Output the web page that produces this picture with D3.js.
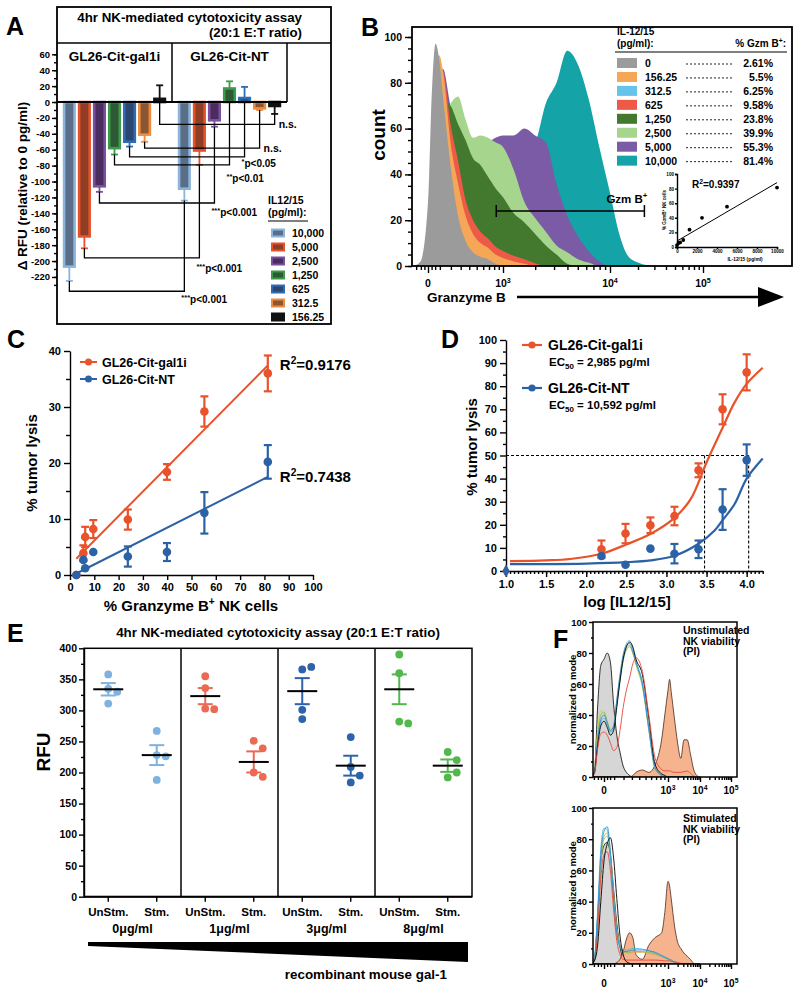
<!DOCTYPE html>
<html lang="en">
<head>
<meta charset="UTF-8">
<title>NK cytotoxicity and granzyme B</title>
<script src="https://d3js.org/d3.v7.min.js"></script>
<style>
  body { margin: 0; background: #fff; }
  svg { font-family: "Liberation Sans", Arial, Helvetica, sans-serif; font-weight: bold; }
  .axis path, .axis line { stroke: #000; stroke-width: 1.4; fill: none; }
  .axis text { font-weight: bold; fill: #000; }
</style>
</head>
<body>
<svg id="figure" width="800" height="993"></svg>
<script>
// ---------- panel A : change in RFU vs 0 pg/ml ----------
var ilDoses = ["10,000", "5,000", "2,500", "1,250", "625", "312.5", "156.25"];
var aCells = ["GL26-Cit-gal1i", "GL26-Cit-NT"];
var aGal1i = [-207, -169, -106, -58, -50, -41, 4];
var aGal1iSem = [18, 15, 7, 8, 6, 9, 17];
var aNT = [-109, -61, -23, 17, 5, -8, -5];
var aNTSem = [15, 18, 8, 9, 14, 2, 10];
var aBracket = [-238, -196, -127, -79, -69, -58, -28];   // level of each comparison line
var aStars = ["***", "***", "***", "**", "*", "", ""];
var aPval = ["p<0.001", "p<0.001", "p<0.001", "p<0.01", "p<0.05", "n.s.", "n.s."];

// ---------- panel B : granzyme B histograms ----------
// channel: 0 -> 0, 1 -> 10^3, 2 -> 10^4, 3 -> 10^5 (biexponential display)
var bDoses = ["0", "156.25", "312.5", "625", "1,250", "2,500", "5,000", "10,000"];
var bDoseVal = [0, 156.25, 312.5, 625, 1250, 2500, 5000, 10000];
var bGzmPct = [2.61, 5.5, 6.25, 9.58, 23.8, 39.9, 55.3, 81.4];
var bChannel = [-0.2, -0.1, 0, 0.05, 0.1, 0.15, 0.2, 0.3, 0.4, 0.5, 0.6, 0.7, 0.8, 0.9, 1.0, 1.1, 1.2, 1.3, 1.4, 1.5, 1.6, 1.7, 1.8, 1.9, 2.0, 2.1, 2.2, 2.3, 2.4, 2.5];
var bCount0 = [0, 2, 28, 75, 97, 90, 74, 44, 22, 11, 6, 4, 3, 1, 0, 0, 0, 0, 0, 0, 0, 0, 0, 0, 0, 0, 0, 0, 0, 0];
var bCount156 = [0, 1, 15, 55, 88, 92, 85, 54, 36, 22, 14, 10, 8, 5, 3.5, 2, 1, 0, 0, 0, 0, 0, 0, 0, 0, 0, 0, 0, 0, 0];
var bCount312 = [0, 1, 14, 52, 86, 90, 83, 52, 35, 21, 13, 9, 7, 4.5, 3, 1.8, 0.8, 0, 0, 0, 0, 0, 0, 0, 0, 0, 0, 0, 0, 0];
var bCount625 = [0, 1, 12, 45, 80, 86, 85, 62, 46, 29, 20, 15, 12, 8.5, 6.5, 4.5, 3, 1.2, 0, 0, 0, 0, 0, 0, 0, 0, 0, 0, 0, 0];
var bCount1250 = [0, 0.5, 10, 40, 66, 72, 72, 70, 62, 55, 47, 44, 39, 34, 30, 23, 19, 14, 9, 5, 1, 0, 0, 0, 0, 0, 0, 0, 0, 0];
var bCount2500 = [0, 0.5, 8, 30, 55, 62, 66, 71, 74, 64, 56, 57, 56, 54, 52, 42, 28, 21, 15, 9, 6, 3, 1.5, 0, 0, 0, 0, 0, 0, 0];
var bCount5000 = [0, 1, 10, 35, 60, 80, 86, 70, 62, 58, 54, 53, 54, 56, 57, 57, 60, 57, 54, 36, 22, 13, 6.5, 2, 0, 0, 0, 0, 0, 0];
var bCount10000 = [0, 0, 5, 15, 30, 40, 46, 50, 50, 50, 50, 50, 50, 50, 50, 50, 50, 54, 71, 80, 94, 88, 73, 52, 32, 14, 4, 1.5, 0.3, 0];
var bGate = [0.91, 2.37];
var bGateCount = 24;
var bR2 = "0.9397";

// ---------- panel C : lysis vs granzyme B ----------
var cGzmPct = [2.61, 5.5, 6.25, 9.58, 23.8, 39.9, 55.3, 81.4];
var cGal1i = [0, 3.9, 6.8, 8.2, 9.9, 18.4, 29.2, 36.0];
var cGal1iSem = [0, 1.4, 1.8, 1.6, 1.8, 1.4, 2.7, 3.2];
var cNT = [0, 2.7, 1.2, 4.1, 3.3, 4.1, 11.1, 20.2];
var cNTSem = [0, 0.3, 0.3, 0.3, 1.8, 1.6, 3.7, 3.0];
var cR2 = ["0.9176", "0.7438"];

// ---------- panel D : dose response ----------
var dLogDose = [1.0, 2.19, 2.49, 2.80, 3.10, 3.40, 3.70, 4.00];
var dGal1i = [0, 9.4, 16.2, 19.8, 23.8, 43.6, 70.0, 86.0];
var dGal1iSem = [0, 3.8, 4.2, 3.4, 4.0, 3.0, 6.5, 7.8];
var dNT = [0, 6.5, 2.7, 9.7, 7.5, 9.4, 26.6, 48.0];
var dNTSem = [0, 0.4, 0.4, 0.4, 4.2, 3.8, 8.8, 6.8];
var dGal1iFitX = [1.05, 1.5, 1.8, 2.2, 2.5, 2.8, 3.1, 3.3, 3.5, 3.7, 3.85, 4.0, 4.2];
var dGal1iFitY = [4.3, 4.6, 5.2, 7.6, 11.5, 16, 23, 31, 47, 62, 73, 81, 88];
var dNTFitX = [1.05, 1.5, 2.0, 2.5, 2.8, 3.1, 3.4, 3.6, 3.7, 3.85, 4.0, 4.2];
var dNTFitY = [3.0, 3.0, 3.2, 3.8, 4.6, 6.6, 11.8, 17.5, 22, 29, 40, 48.7];
var dEC50 = [2985, 10592];
var dEC50Text = ["2,985", "10,592"];

// ---------- panel E : RFU with recombinant gal-1 ----------
var eDoses = ["0\u03bcg/ml", "1\u03bcg/ml", "3\u03bcg/ml", "8\u03bcg/ml"];
var eConds = ["UnStm.", "Stm."];
var eUnstim = [[358, 335, 330, 311], [355, 336, 303, 302], [366, 370, 301, 286], [390, 360, 282, 279]];
var eStim = [[267, 228, 226, 188], [251, 239, 200, 193], [257, 209, 195, 184], [233, 220, 192, 200]];
var eUnstimMean = [334, 323, 331, 334];
var eUnstimSem = [10, 13, 21, 24];
var eStimMean = [228, 217, 211, 211];
var eStimSem = [16, 17, 16, 10];

// ---------- panel F : PI viability histograms ----------
var fChannel = [-0.2, -0.15, -0.1, -0.05, 0, 0.05, 0.1, 0.15, 0.2, 0.25, 0.3, 0.35, 0.4, 0.45, 0.5, 0.6, 0.7, 0.8, 0.9, 0.95, 1.0, 1.05, 1.1, 1.2, 1.3, 1.4, 1.5, 1.6, 1.7, 1.8, 1.9, 2.0];
var unstimGray = [0, 3, 45, 72, 76, 80, 74, 47, 27, 16, 7, 3, 1, 0, 0, 0, 0, 0, 0, 0, 0, 0, 0, 0, 0, 0, 0, 0, 0, 0, 0, 0];
var unstimBlack = [0, 3, 20, 33, 36, 32, 27, 30, 45, 62, 76, 84, 87, 84, 76, 66, 38, 8, 2, 1, 0, 0, 0, 0, 0, 0, 0, 0, 0, 0, 0, 0];
var unstimBlue = [0, 3, 24, 37, 40, 35, 30, 33, 50, 66, 79, 85, 86, 81, 74, 60, 32, 6, 1, 0, 0, 0, 0, 0, 0, 0, 0, 0, 0, 0, 0, 0];
var unstimCyan = [0, 2, 22, 35, 38, 34, 29, 31, 48, 63, 77, 86, 88, 83, 75, 61, 31, 5, 1, 0, 0, 0, 0, 0, 0, 0, 0, 0, 0, 0, 0, 0];
var unstimGreen = [0, 3, 26, 40, 42, 36, 30, 32, 47, 62, 75, 82, 84, 80, 73, 59, 30, 5, 1, 0, 0, 0, 0, 0, 0, 0, 0, 0, 0, 0, 0, 0];
var unstimYellow = [0, 4, 30, 43, 41, 36, 31, 33, 49, 65, 78, 83, 85, 80, 72, 58, 31, 6, 1, 0, 0, 0, 0, 0, 0, 0, 0, 0, 0, 0, 0, 0];
var unstimRed = [0, 2, 18, 28, 29, 27, 22, 17, 19, 30, 45, 56, 64, 73, 77, 68, 40, 12, 5, 4, 4, 4, 3.5, 3, 3, 3, 3.5, 3.8, 2.5, 0.5, 0, 0];
var unstimSalmon = [0, 0, 0, 0, 0, 0, 0, 0, 0, 0, 0, 0, 0, 1, 3, 4.5, 3, 8, 24, 40, 56, 63, 55, 38, 22, 12, 24, 24, 15, 5, 1, 0];
var stimGray = [0, 3, 30, 65, 76, 78, 70, 48, 26, 11, 3, 0.5, 0, 0, 0, 0, 0, 0, 0, 0, 0, 0, 0, 0, 0, 0, 0, 0, 0, 0, 0, 0];
var stimBlack = [0, 2, 12, 40, 66, 77, 81, 68, 42, 18, 6, 1.5, 0.5, 0, 0, 0, 0, 0, 0, 0, 0, 0, 0, 0, 0, 0, 0, 0, 0, 0, 0, 0];
var stimBlue = [0, 3, 30, 70, 85, 88, 72, 42, 20, 11, 8, 8, 8.5, 9, 9, 9, 8.5, 7.5, 5.5, 4.5, 3.5, 3, 2.6, 1.2, 0.3, 0, 0, 0, 0, 0, 0, 0];
var stimCyan = [0, 4, 34, 74, 87, 86, 68, 40, 19, 11, 9, 9, 9.5, 10, 10, 9.5, 8.5, 7, 5, 4, 3, 2.5, 2, 1, 0.3, 0, 0, 0, 0, 0, 0, 0];
var stimGreen = [0, 3, 28, 66, 80, 82, 70, 44, 22, 12, 8, 7.5, 7.5, 8, 8, 8, 7.5, 6.5, 5, 4, 3, 2.5, 2, 1, 0.3, 0, 0, 0, 0, 0, 0, 0];
var stimYellow = [0, 3, 27, 64, 82, 84, 72, 45, 23, 12, 8, 7, 7, 7.5, 7.5, 7.5, 7, 6, 4.5, 3.5, 2.8, 2.3, 1.8, 0.8, 0.2, 0, 0, 0, 0, 0, 0, 0];
var stimRed = [0, 2, 20, 55, 70, 72, 60, 35, 15, 6, 3, 2.5, 2.5, 2.5, 2.5, 2.5, 2.5, 2.5, 2.2, 2, 2, 2, 1.8, 1.5, 1, 0.5, 0, 0, 0, 0, 0, 0];
var stimSalmon = [0, 0, 0, 0, 0, 0, 0, 0, 1, 3, 8, 16, 20, 17, 6, 3, 12, 17, 20, 33, 53, 50, 42, 25, 14, 10, 7, 5, 3, 0.5, 0, 0];

// colours
var doseEdge = ["#8cb4dc", "#e5522b", "#7a4f9e", "#3d9a4a", "#2f6cb3", "#ee8b3d", "#111111"];
var doseFill = ["#5a6f87", "#8f3e25", "#4a2c5e", "#2d5934", "#2b4770", "#8a5634", "#111111"];
var bColors = ["#9b9b9b", "#f5a757", "#66c4e9", "#ee5a48", "#42792f", "#a6d58e", "#7b5aa6", "#14a4a7"];
var ORANGE = "#e8532b", BLUE = "#2b62a6";
var eColors = ["#7fb2df", "#eb6a54", "#2d63a9", "#52b84c"];

var svg = d3.select("#figure");

function label(g, x, y, s, size, anchor) {
    return g.append("text").attr("x", x).attr("y", y)
        .attr("font-size", size).attr("text-anchor", anchor || "start").text(s);
}

function vlabel(g, x, y, s, size) {
    return g.append("text").attr("transform", "translate(" + x + "," + y + ") rotate(-90)")
        .attr("text-anchor", "middle").attr("font-size", size).text(s);
}

function axisG(g, tx, ty, fn, fs) {
    var a = g.append("g").attr("class", "axis")
        .attr("transform", "translate(" + tx + "," + ty + ")").call(fn);
    a.attr("font-family", null).attr("font-size", fs || 10);
    return a;
}

function errBar(g, x, ya, yb, cap, color, sw) {
    g.append("line").attr("x1", x).attr("x2", x).attr("y1", ya).attr("y2", yb)
        .attr("stroke", color).attr("stroke-width", sw);
    g.append("line").attr("x1", x - cap).attr("x2", x + cap).attr("y1", yb).attr("y2", yb)
        .attr("stroke", color).attr("stroke-width", sw);
}

function supText(g, x, y, base, sup, size, anchor) {
    var t = g.append("text").attr("x", x).attr("y", y).attr("font-size", size)
        .attr("text-anchor", anchor || "start");
    t.append("tspan").text(base);
    t.append("tspan").attr("dy", -size * 0.4).attr("font-size", size * 0.68).text(sup);
    return t;
}

function linFit(xs, ys) {
    var mx = d3.mean(xs), my = d3.mean(ys);
    var sxy = d3.sum(xs, function (x, i) { return (x - mx) * (ys[i] - my); });
    var sxx = d3.sum(xs, function (x) { return (x - mx) * (x - mx); });
    var b = sxy / sxx;
    return { b: b, a: my - b * mx };
}

function zip(xs, ys) {
    return xs.map(function (x, i) { return [x, ys[i]]; });
}

// channel position of a fluorescence value, for the flow axes ticks
function flowChannel(v) {
    return v >= 1000 ? Math.log10(v) - 2 : Math.asinh(v / 356) / Math.asinh(1000 / 356);
}
var flowMinor = [-100, -60, -30, 30, 60, 100, 200, 300, 400, 500, 600, 700, 800, 900,
    2000, 3000, 4000, 5000, 6000, 7000, 8000, 9000,
    20000, 30000, 40000, 50000, 60000, 70000, 80000, 90000];
var flowMajor = [["0", ""], ["10", "3"], ["10", "4"], ["10", "5"]];

/* =================== A =================== */
var pA = svg.append("g");
label(pA, 6, 35, "A", 25);
var yA = d3.scaleLinear().domain([-230, 60]).range([284.9, 54.3]);
var cellA = d3.scaleBand().domain(aCells).range([57, 287]);
var doseA = d3.scaleBand().domain(ilDoses).range([0, cellA.bandwidth()]).paddingInner(0.3).paddingOuter(0.47);

pA.append("rect").attr("x", 57).attr("y", 7).attr("width", 274).attr("height", 317)
    .attr("fill", "none").attr("stroke", "#000").attr("stroke-width", 1.8);
pA.append("line").attr("x1", 57).attr("x2", 331).attr("y1", 43).attr("y2", 43)
    .attr("stroke", "#000").attr("stroke-width", 1.5);
aCells.forEach(function (c) {
    var xe = cellA(c) + cellA.bandwidth();
    pA.append("line").attr("x1", xe).attr("x2", xe).attr("y1", 43).attr("y2", yA(0))
        .attr("stroke", "#000").attr("stroke-width", 1.5);
    label(pA, cellA(c) + cellA.bandwidth() / 2, 61, c, 13.5, "middle");
});
label(pA, 302, 22, "4hr NK-mediated cytotoxicity assay", 13.3, "end");
label(pA, 302, 37, "(20:1 E:T ratio)", 13.3, "end");

var axA = axisG(pA, 57, 0, d3.axisLeft(yA).tickValues(d3.range(-220, 61, 20)).tickSize(5).tickPadding(2)
    .tickFormat(function (d) { return String(d); }), 9.5);
axA.select(".domain").remove();
var axA2 = axisG(pA, 57, 0, d3.axisLeft(yA).tickValues(d3.range(-230, 61, 10)).tickSize(3).tickFormat(""));
axA2.select(".domain").remove();
vlabel(pA, 27, 186, "\u0394 RFU (relative to 0 pg/ml)", 13.5);

var aSeries = [{ cell: aCells[0], mean: aGal1i, sem: aGal1iSem }, { cell: aCells[1], mean: aNT, sem: aNTSem }];
aSeries.forEach(function (s) {
    s.mean.forEach(function (v, i) {
        var x = cellA(s.cell) + doseA(ilDoses[i]), w = doseA.bandwidth(), cx = x + w / 2;
        var end = v + (v < 0 ? -s.sem[i] : s.sem[i]);
        errBar(pA, cx, yA(v), yA(end), 3.5, doseEdge[i], 1.8);
        pA.append("rect").attr("x", x).attr("y", Math.min(yA(v), yA(0)))
            .attr("width", w).attr("height", Math.abs(yA(v) - yA(0)))
            .attr("fill", doseFill[i]).attr("stroke", doseEdge[i]).attr("stroke-width", 2.6);
    });
});
pA.append("line").attr("x1", 57).attr("x2", 287).attr("y1", yA(0)).attr("y2", yA(0))
    .attr("stroke", "#000").attr("stroke-width", 2);

// label baseline below its bracket (px); the two closest brackets get their own offsets
var aLabelDrop = [12, 14, 13, 17, 10];
aBracket.forEach(function (lvl, i) {
    var half = doseA.bandwidth() / 2;
    var x1 = cellA(aCells[0]) + doseA(ilDoses[i]) + half;
    var x2 = cellA(aCells[1]) + doseA(ilDoses[i]) + half;
    var e1 = aGal1i[i] < 0 ? aGal1i[i] - aGal1iSem[i] : 0;
    var e2 = aNT[i] < 0 ? aNT[i] - aNTSem[i] : 0;
    var yb = yA(lvl);
    pA.append("path").attr("d", "M" + x1 + "," + yA(e1) + "V" + yb + "H" + x2 + "V" + yA(e2))
        .attr("fill", "none").attr("stroke", "#000").attr("stroke-width", 1.3);
    if (aStars[i]) {
        var t = pA.append("text").attr("x", x2 - 3).attr("y", yb + aLabelDrop[i]).attr("font-size", 10);
        t.append("tspan").attr("font-size", 7.5).attr("dy", -3).text(aStars[i]);
        t.append("tspan").attr("dy", 3).text(aPval[i]);
    } else {
        label(pA, x2 + 4, yb + 4, aPval[i], 10.5);
    }
});

label(pA, 268, 204, "IL12/15", 10.5);
label(pA, 268, 216, "(pg/ml):", 10.5);
pA.append("line").attr("x1", 268).attr("x2", 308).attr("y1", 221).attr("y2", 221)
    .attr("stroke", "#000").attr("stroke-width", 1.2);
ilDoses.forEach(function (d, i) {
    var y = 233 + i * 14;
    pA.append("rect").attr("x", 272).attr("y", y - 3.5).attr("width", 12).attr("height", 7)
        .attr("fill", doseFill[i]).attr("stroke", doseEdge[i]).attr("stroke-width", 2);
    label(pA, 292, y + 4, d, 10.5);
});

/* =================== B =================== */
var pB = svg.append("g");
label(pB, 361, 36, "B", 25);
var xB = d3.scaleLinear().domain([0, 1, 2, 3]).range([428, 503, 610, 703]);
var yB = d3.scaleLinear().domain([0, 100]).range([266, 37]);
pB.append("clipPath").attr("id", "clipB").append("rect")
    .attr("x", 412).attr("y", 27).attr("width", 380).attr("height", 239);
var areaB = d3.area().x(function (d) { return xB(d[0]); }).y0(yB(0))
    .y1(function (d) { return yB(d[1]); }).curve(d3.curveMonotoneX);
var bCounts = [bCount0, bCount156, bCount312, bCount625, bCount1250, bCount2500, bCount5000, bCount10000];
var histB = pB.append("g").attr("clip-path", "url(#clipB)");
for (var k = bCounts.length - 1; k >= 0; k--) {
    histB.append("path").attr("d", areaB(zip(bChannel, bCounts[k]))).attr("fill", bColors[k]);
}
pB.append("rect").attr("x", 412).attr("y", 27).attr("width", 380).attr("height", 239)
    .attr("fill", "none").attr("stroke", "#000").attr("stroke-width", 1.8);

var axB = axisG(pB, 412, 0, d3.axisLeft(yB).tickValues(d3.range(0, 101, 20)).tickSize(7).tickPadding(3), 10.5);
axB.select(".domain").remove();
axisG(pB, 412, 0, d3.axisLeft(yB).tickValues(d3.range(0, 101, 5)).tickSize(4).tickFormat("")).select(".domain").remove();
axisG(pB, 0, 266, d3.axisBottom(xB).tickValues([0, 1, 2, 3]).tickSize(7).tickFormat("")).select(".domain").remove();
axisG(pB, 0, 266, d3.axisBottom(xB).tickValues(flowMinor.map(flowChannel)).tickSize(4).tickFormat("")).select(".domain").remove();
flowMajor.forEach(function (m, i) {
    supText(pB, xB(i), 287, m[0], m[1], 10.5, "middle");
});
vlabel(pB, 385, 135, "count", 19);
label(pB, 427, 302, "Granzyme B", 13.5);
pB.append("line").attr("x1", 517).attr("x2", 762).attr("y1", 297).attr("y2", 297)
    .attr("stroke", "#000").attr("stroke-width", 2.6);
pB.append("path").attr("d", "M758,287L784,297L758,307Z").attr("fill", "#000");

// Gzm B+ gate
var gy = yB(bGateCount);
pB.append("line").attr("x1", xB(bGate[0])).attr("x2", xB(bGate[1])).attr("y1", gy).attr("y2", gy)
    .attr("stroke", "#000").attr("stroke-width", 1.5);
bGate.forEach(function (g) {
    pB.append("line").attr("x1", xB(g)).attr("x2", xB(g)).attr("y1", gy - 6).attr("y2", gy + 6)
        .attr("stroke", "#000").attr("stroke-width", 1.5);
});
supText(pB, xB(bGate[1]) + 3, gy - 8, "Gzm B", "+", 11.5, "end");

// legend
label(pB, 617, 35, "IL-12/15", 10);
label(pB, 617, 47, "(pg/ml):", 10);
var gzHead = supText(pB, 786, 47, "% Gzm B", "+", 10, "end");
gzHead.append("tspan").attr("dy", 4).attr("font-size", 10).text(":");
pB.append("line").attr("x1", 615).attr("x2", 787).attr("y1", 52).attr("y2", 52)
    .attr("stroke", "#000").attr("stroke-width", 1.2);
bDoses.forEach(function (d, i) {
    var y = 63 + i * 13.95;
    pB.append("rect").attr("x", 617).attr("y", y - 5).attr("width", 20).attr("height", 10).attr("fill", bColors[i]);
    label(pB, 645, y + 4, d, 10.5);
    pB.append("line").attr("x1", 686).attr("x2", 732).attr("y1", y + 1).attr("y2", y + 1)
        .attr("stroke", "#222").attr("stroke-width", 1).attr("stroke-dasharray", "2,2");
    label(pB, 773, y + 4, bGzmPct[i] + "%", 10.5, "end");
});

// inset regression
var xIn = d3.scaleLinear().domain([0, 10000]).range([677, 777]);
var yIn = d3.scaleLinear().domain([0, 100]).range([247, 174]);
axisG(pB, 0, 247, d3.axisBottom(xIn).tickValues(d3.range(0, 10001, 2000)).tickSize(2).tickPadding(1)
    .tickFormat(d3.format("d")), 4.6);
axisG(pB, 677, 0, d3.axisLeft(yIn).tickValues(d3.range(0, 101, 20)).tickSize(2).tickPadding(1), 4.6);
var fitB = linFit(bDoseVal, bGzmPct);
pB.append("line").attr("x1", xIn(0)).attr("x2", xIn(10000))
    .attr("y1", yIn(fitB.a)).attr("y2", yIn(fitB.a + fitB.b * 10000))
    .attr("stroke", "#000").attr("stroke-width", 1);
bDoseVal.forEach(function (v, i) {
    pB.append("circle").attr("cx", xIn(v)).attr("cy", yIn(bGzmPct[i])).attr("r", 1.9).attr("fill", "#000");
});
supText(pB, 692, 188, "R", "2", 10, "start").append("tspan").attr("dy", 4).attr("font-size", 10).text("=" + bR2);
label(pB, 745, 261, "IL-12/15 (pg/ml)", 4.8, "middle");
var inY = pB.append("text").attr("transform", "translate(666,210) rotate(-90)").attr("text-anchor", "middle").attr("font-size", 4.6);
inY.append("tspan").text("% GzmB");
inY.append("tspan").attr("dy", -2).attr("font-size", 3.4).text("+");
inY.append("tspan").attr("dy", 2).text(" NK cells");

/* =================== C =================== */
var pC = svg.append("g");
label(pC, 7, 348, "C", 25);
var xC = d3.scaleLinear().domain([0, 100]).range([70, 313]);
var yC = d3.scaleLinear().domain([0, 40]).range([575, 351]);
axisG(pC, 70, 0, d3.axisLeft(yC).tickValues(d3.range(0, 41, 10)).tickSize(6).tickPadding(3).tickSizeOuter(0), 11);
axisG(pC, 70, 0, d3.axisLeft(yC).tickValues(d3.range(5, 41, 10)).tickSize(4).tickFormat("")).select(".domain").remove();
axisG(pC, 0, 575, d3.axisBottom(xC).tickValues(d3.range(0, 101, 10)).tickSize(5).tickPadding(3).tickSizeOuter(0), 11);
vlabel(pC, 37, 463, "% tumor lysis", 15);
supText(pC, 191, 611, "% Granzyme B", "+", 15, "middle").append("tspan").attr("dy", 6).attr("font-size", 15).text(" NK cells");

var cSeries = [
    { y: cGal1i, sem: cGal1iSem, color: ORANGE, r2: cR2[0] },
    { y: cNT, sem: cNTSem, color: BLUE, r2: cR2[1] }
];
cSeries.forEach(function (s) {
    var f = linFit(cGzmPct, s.y);
    var x0 = d3.min(cGzmPct), x1 = d3.max(cGzmPct);
    pC.append("line").attr("x1", xC(x0)).attr("x2", xC(x1))
        .attr("y1", yC(f.a + f.b * x0)).attr("y2", yC(f.a + f.b * x1))
        .attr("stroke", s.color).attr("stroke-width", 2);
    s.y.forEach(function (v, i) {
        var x = xC(cGzmPct[i]);
        if (s.sem[i] > 0.5) {
            errBar(pC, x, yC(v), yC(v + s.sem[i]), 4, s.color, 2.2);
            errBar(pC, x, yC(v), yC(v - s.sem[i]), 4, s.color, 2.2);
        }
        pC.append("circle").attr("cx", x).attr("cy", yC(v)).attr("r", 4.3).attr("fill", s.color);
    });
    var t = supText(pC, xC(x1) + 12, yC(f.a + f.b * x1) + 5, "R", "2", 15, "start");
    t.append("tspan").attr("dy", 6).attr("font-size", 15).text("=" + s.r2);
});
[["GL26-Cit-gal1i", ORANGE, 362], ["GL26-Cit-NT", BLUE, 379]].forEach(function (l) {
    pC.append("line").attr("x1", 80).attr("x2", 97).attr("y1", l[2]).attr("y2", l[2])
        .attr("stroke", l[1]).attr("stroke-width", 2);
    pC.append("circle").attr("cx", 88.5).attr("cy", l[2]).attr("r", 3.5).attr("fill", l[1]);
    label(pC, 102, l[2] + 4.5, l[0], 12.5);
});

/* =================== D =================== */
var pD = svg.append("g");
label(pD, 441, 348, "D", 25);
var xD = d3.scaleLinear().domain([1, 4.2]).range([506, 762.7]);
var yD = d3.scaleLinear().domain([0, 100]).range([571, 340]);
axisG(pD, 506, 0, d3.axisLeft(yD).tickValues(d3.range(0, 101, 10)).tickSize(6).tickPadding(3).tickSizeOuter(0), 11);
axisG(pD, 506, 0, d3.axisLeft(yD).tickValues(d3.range(5, 100, 10)).tickSize(3).tickFormat("")).select(".domain").remove();
axisG(pD, 0, 571, d3.axisBottom(xD).tickValues(d3.range(1, 4.01, 0.5)).tickSize(6).tickPadding(3)
    .tickSizeOuter(0).tickFormat(d3.format(".1f")), 11);
axisG(pD, 0, 571, d3.axisBottom(xD).tickValues(d3.range(1, 4.21, 0.05)).tickSize(3).tickFormat("")).select(".domain").remove();
vlabel(pD, 477, 447, "% tumor lysis", 15);
label(pD, 627, 607, "log [IL12/15]", 15, "middle");

var ec50Log = dEC50.map(function (v) { return Math.log10(v); });
pD.append("path").attr("d", "M" + xD(1) + "," + yD(50) + "H" + xD(d3.max(ec50Log)))
    .attr("fill", "none").attr("stroke", "#000").attr("stroke-width", 1.1).attr("stroke-dasharray", "3,2");
ec50Log.forEach(function (lx) {
    pD.append("line").attr("x1", xD(lx)).attr("x2", xD(lx)).attr("y1", yD(50)).attr("y2", yD(0))
        .attr("stroke", "#000").attr("stroke-width", 1.1).attr("stroke-dasharray", "3,2");
});

var lineD = d3.line().x(function (d) { return xD(d[0]); }).y(function (d) { return yD(d[1]); })
    .curve(d3.curveCatmullRom.alpha(0.5));
var dSeries = [
    { y: dGal1i, sem: dGal1iSem, fx: dGal1iFitX, fy: dGal1iFitY, color: ORANGE },
    { y: dNT, sem: dNTSem, fx: dNTFitX, fy: dNTFitY, color: BLUE }
];
dSeries.forEach(function (s) {
    pD.append("path").attr("d", lineD(zip(s.fx, s.fy))).attr("fill", "none")
        .attr("stroke", s.color).attr("stroke-width", 2.2);
    s.y.forEach(function (v, i) {
        var x = xD(dLogDose[i]);
        if (s.sem[i] > 0.5) {
            errBar(pD, x, yD(v), yD(v + s.sem[i]), 4, s.color, 2.2);
            errBar(pD, x, yD(v), yD(v - s.sem[i]), 4, s.color, 2.2);
        }
        if (i === 0) {
            pD.append("path").attr("d", d3.symbol(d3.symbolDiamond, 45)())
                .attr("transform", "translate(" + x + "," + yD(v) + ")").attr("fill", s.color);
        } else {
            pD.append("circle").attr("cx", x).attr("cy", yD(v)).attr("r", 4.3).attr("fill", s.color);
        }
    });
});
[["GL26-Cit-gal1i", ORANGE, 345, dEC50Text[0]], ["GL26-Cit-NT", BLUE, 388, dEC50Text[1]]].forEach(function (l) {
    pD.append("line").attr("x1", 522).attr("x2", 542).attr("y1", l[2]).attr("y2", l[2])
        .attr("stroke", l[1]).attr("stroke-width", 2.2);
    pD.append("circle").attr("cx", 532).attr("cy", l[2]).attr("r", 3.6).attr("fill", l[1]);
    label(pD, 548, l[2] + 5, l[0], 14);
    var t = pD.append("text").attr("x", 549).attr("y", l[2] + 21).attr("font-size", 11.5);
    t.append("tspan").text("EC");
    t.append("tspan").attr("dy", 3).attr("font-size", 8).text("50");
    t.append("tspan").attr("dy", -3).text(" = " + l[3] + " pg/ml");
});

/* =================== E =================== */
var pE = svg.append("g");
var eLeft = 84, eRight = 472;
label(pE, 7, 642, "E", 25);
label(pE, (eLeft + eRight) / 2, 637, "4hr NK-mediated cytotoxicity assay (20:1 E:T ratio)", 13.4, "middle");
var yE = d3.scaleLinear().domain([0, 400]).range([896.7, 648.3]);
var eCats = [];
eDoses.forEach(function (d, g) { eConds.forEach(function (c, j) { eCats.push(g * 2 + j); }); });
var xE = d3.scaleBand().domain(eCats).range([eLeft, eRight]);
axisG(pE, eLeft, 0, d3.axisLeft(yE).tickValues(d3.range(0, 401, 50)).tickSize(5).tickPadding(2).tickSizeOuter(0), 10.5);
axisG(pE, eLeft, 0, d3.axisLeft(yE).tickValues(d3.range(25, 400, 50)).tickSize(3).tickFormat("")).select(".domain").remove();
pE.append("rect").attr("x", eLeft).attr("y", yE(400)).attr("width", eRight - eLeft).attr("height", yE(0) - yE(400))
    .attr("fill", "none").attr("stroke", "#000").attr("stroke-width", 1.5);
pE.append("line").attr("x1", eLeft).attr("x2", eRight).attr("y1", yE(0)).attr("y2", yE(0))
    .attr("stroke", "#000").attr("stroke-width", 2);
[2, 4, 6].forEach(function (c) {
    pE.append("line").attr("x1", xE(c)).attr("x2", xE(c)).attr("y1", yE(400)).attr("y2", yE(0))
        .attr("stroke", "#000").attr("stroke-width", 1.5);
});
vlabel(pE, 50, 752, "RFU", 19);

function swarm(vals, yS, step) {
    var placed = [];
    return vals.map(function (v) {
        var y = yS(v), offs = [0, step, -step, 2 * step, -2 * step];
        for (var q = 0; q < offs.length; q++) {
            var free = placed.every(function (p) { return Math.hypot(p[0] - offs[q], p[1] - y) >= step; });
            if (free) { placed.push([offs[q], y]); return offs[q]; }
        }
        return 0;
    });
}

eDoses.forEach(function (d, g) {
    var groups = [[eUnstim[g], eUnstimMean[g], eUnstimSem[g]], [eStim[g], eStimMean[g], eStimSem[g]]];
    groups.forEach(function (gr, j) {
        var cat = g * 2 + j, cx = xE(cat) + xE.bandwidth() / 2, col = eColors[g];
        pE.append("line").attr("x1", cx).attr("x2", cx).attr("y1", yE(0)).attr("y2", yE(0) + 5)
            .attr("stroke", "#000").attr("stroke-width", 1.4);
        label(pE, cx, 916, eConds[j], 11.5, "middle");
        var offs = swarm(gr[0], yE, 9);
        gr[0].forEach(function (v, i) {
            pE.append("circle").attr("cx", cx + offs[i]).attr("cy", yE(v)).attr("r", 3.9).attr("fill", col);
        });
        errBar(pE, cx, yE(gr[1]), yE(gr[1] + gr[2]), 7.5, col, 2);
        errBar(pE, cx, yE(gr[1]), yE(gr[1] - gr[2]), 7.5, col, 2);
        pE.append("line").attr("x1", cx - 15).attr("x2", cx + 15).attr("y1", yE(gr[1])).attr("y2", yE(gr[1]))
            .attr("stroke", "#000").attr("stroke-width", 2);
    });
    label(pE, xE(g * 2) + xE.bandwidth(), 933, d, 12.5, "middle");
});
pE.append("path").attr("d", "M88,942L468,942L468,962L88,946Z").attr("fill", "#000");
label(pE, 447, 979, "recombinant mouse gal-1", 13.4, "end");

/* =================== F =================== */
var pF = svg.append("g");
var fLeft = 593, fRight = 737;
label(pF, 553, 648, "F", 25);
var xF = d3.scaleLinear().domain([0, 1, 2, 3]).range([604, 668, 700, 731]);
var fPanels = [
    { top: 622, bottom: 777, title: ["Unstimulated", "NK viability", "(PI)"], tx: 683, ty: 634, lab: 794,
      gray: unstimGray, salmon: unstimSalmon,
      lines: [[unstimYellow, "#e0cf3e"], [unstimGreen, "#7cc36b"], [unstimCyan, "#3fc3e3"], [unstimBlue, "#3b86d0"], [unstimBlack, "#000"], [unstimRed, "#e8463a"]] },
    { top: 808, bottom: 964, title: ["Stimulated", "NK viability", "(PI)"], tx: 683, ty: 822, lab: 987,
      gray: stimGray, salmon: stimSalmon,
      lines: [[stimYellow, "#e6a93a"], [stimGreen, "#7cc36b"], [stimCyan, "#3fc3e3"], [stimBlue, "#3b86d0"], [stimRed, "#e8463a"], [stimBlack, "#000"]] }
];
fPanels.forEach(function (p, n) {
    var yF = d3.scaleLinear().domain([0, 100]).range([p.bottom, p.top]);
    var cid = "clipF" + n;
    pF.append("clipPath").attr("id", cid).append("rect")
        .attr("x", fLeft).attr("y", p.top).attr("width", fRight - fLeft).attr("height", p.bottom - p.top);
    var g = pF.append("g").attr("clip-path", "url(#" + cid + ")");
    var areaF = d3.area().x(function (d) { return xF(d[0]); }).y0(yF(0))
        .y1(function (d) { return yF(d[1]); }).curve(d3.curveMonotoneX);
    var lineF = d3.line().x(function (d) { return xF(d[0]); }).y(function (d) { return yF(d[1]); }).curve(d3.curveMonotoneX);
    g.append("path").attr("d", areaF(zip(fChannel, p.gray))).attr("fill", "#d6d6d6")
        .attr("stroke", "#000").attr("stroke-width", 0.8);
    g.append("path").attr("d", areaF(zip(fChannel, p.salmon))).attr("fill", "#f5b38e")
        .attr("stroke", "#4a2a1a").attr("stroke-width", 0.8);
    p.lines.forEach(function (l) {
        g.append("path").attr("d", lineF(zip(fChannel, l[0]))).attr("fill", "none")
            .attr("stroke", l[1]).attr("stroke-width", 0.9);
    });
    pF.append("rect").attr("x", fLeft).attr("y", p.top).attr("width", fRight - fLeft).attr("height", p.bottom - p.top)
        .attr("fill", "none").attr("stroke", "#000").attr("stroke-width", 1.5);
    var ay = axisG(pF, fLeft, 0, d3.axisLeft(yF).tickValues(d3.range(0, 101, 20)).tickSize(4).tickPadding(2), 9.5);
    ay.select(".domain").remove();
    axisG(pF, fLeft, 0, d3.axisLeft(yF).tickValues(d3.range(10, 100, 20)).tickSize(2).tickFormat("")).select(".domain").remove();
    axisG(pF, 0, p.bottom, d3.axisBottom(xF).tickValues([0, 1, 2, 3]).tickSize(5).tickFormat("")).select(".domain").remove();
    axisG(pF, 0, p.bottom, d3.axisBottom(xF).tickValues(flowMinor.map(flowChannel)).tickSize(3).tickFormat("")).select(".domain").remove();
    flowMajor.forEach(function (m, i) {
        supText(pF, xF(i), p.lab, m[0], m[1], 10, "middle");
    });
    p.title.forEach(function (s, i) {
        label(pF, p.tx, p.ty + i * 10.5, s, 10.5);
    });
    vlabel(pF, 576, (p.top + p.bottom) / 2, "normalized to mode", 9.5);
});
</script>
</body>
</html>
